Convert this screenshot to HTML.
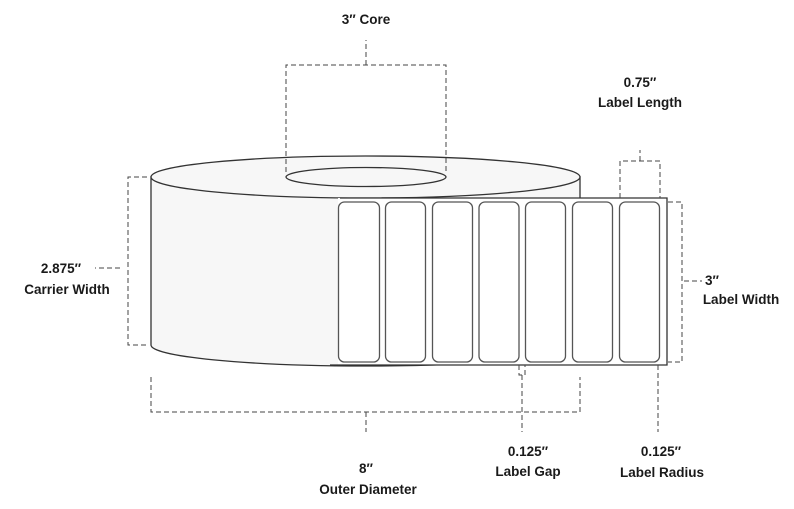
<!DOCTYPE html>
<html><head><meta charset="utf-8"><style>
body{margin:0;background:#fff;}
svg{display:block}
text{font-family:"Liberation Sans",sans-serif;font-weight:bold;font-size:13.5px;fill:#1a1a1a;text-anchor:middle}
.d{stroke:#444;stroke-width:1;stroke-dasharray:5,3;fill:none}
</style></head><body>
<svg width="794" height="509" viewBox="0 0 794 509" xmlns="http://www.w3.org/2000/svg">
<path d="M151,177 L151,345 A214.5,21 0 0 0 580,345 L580,177 Z" fill="#f7f7f7" stroke="#333" stroke-width="1.3"/>
<ellipse cx="365.5" cy="177" rx="214.5" ry="21" fill="#f7f7f7" stroke="#333" stroke-width="1.3"/>
<ellipse cx="366" cy="177" rx="80" ry="9.5" fill="#f7f7f7" stroke="#333" stroke-width="1.3"/>
<rect x="338" y="198" width="329" height="167" fill="#fff" stroke="none"/>
<path d="M340,198 L667,198 L667,365 L330,365" fill="none" stroke="#333" stroke-width="1.3"/>
<g fill="#fff" stroke="#555" stroke-width="1.3">
<rect x="338.5" y="202" width="41" height="160" rx="6"/>
<rect x="385.5" y="202" width="40" height="160" rx="6"/>
<rect x="432.5" y="202" width="40" height="160" rx="6"/>
<rect x="479" y="202" width="40" height="160" rx="6"/>
<rect x="525.5" y="202" width="40" height="160" rx="6"/>
<rect x="572.5" y="202" width="40" height="160" rx="6"/>
<rect x="619.5" y="202" width="40" height="160" rx="6"/>
</g>
<path class="d" d="M286,172 L286,65 L446,65 L446,172 M366,65 L366,40"/>
<path class="d" d="M147,177 L128,177 L128,345 L147,345 M120,268 L95,268"/>
<path class="d" d="M620,198 L620,161 L660,161 L660,198 M640,161 L640,150"/>
<path class="d" d="M668,202 L682,202 L682,362 L668,362 M684,281 L702,281"/>
<path class="d" d="M151,377 L151,412 L580,412 L580,377 M366,412 L366,432"/>
<path class="d" d="M519,365 L519,375 L525,375 L525,365 M522,375 L522,432"/>
<path class="d" d="M658,365 L658,432"/>
<text x="366" y="24">3″ Core</text>
<text x="640" y="87">0.75″</text>
<text x="640" y="107">Label Length</text>
<text x="61" y="273">2.875″</text>
<text x="67" y="294">Carrier Width</text>
<text x="712" y="285">3″</text>
<text x="741" y="304">Label Width</text>
<text x="366" y="473">8″</text>
<text x="368" y="494">Outer Diameter</text>
<text x="528" y="456">0.125″</text>
<text x="528" y="476">Label Gap</text>
<text x="661" y="456">0.125″</text>
<text x="662" y="477">Label Radius</text>
</svg>
</body></html>
